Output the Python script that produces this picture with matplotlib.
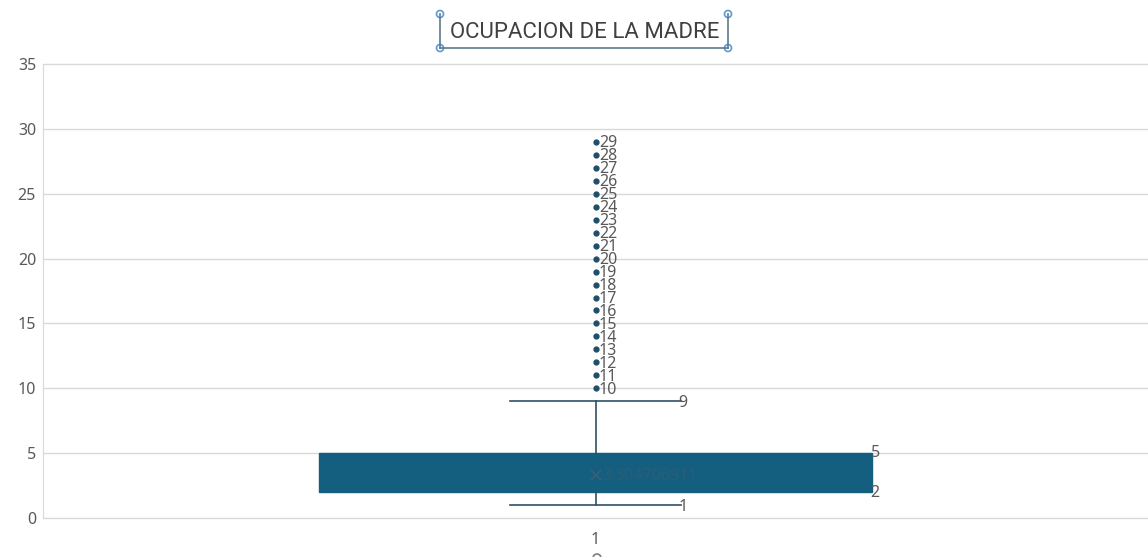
import numpy as np
import matplotlib.pyplot as plt
from matplotlib.patches import Circle
from matplotlib.lines import Line2D

# box summary
q1 = 2
q3 = 5
median = 5
whisker_low = 1
whisker_high = 9
mean_value = 3.304706911
outliers = [10, 11, 12, 13, 14, 15, 16, 17, 18, 19,
            20, 21, 22, 23, 24, 25, 26, 27, 28, 29]
category = ['1']
y_ticks = [0, 5, 10, 15, 20, 25, 30, 35]

box_color = '#145f80'
line_color = '#2e5266'
text_color = '#595959'
plt.rcParams['font.family'] = ['Noto Sans', 'DejaVu Sans']

fig = plt.figure(figsize=(11.48, 5.57), dpi=100)
ax = fig.add_axes([0.0375, 0.070, 0.9625, 0.815])

stats = [{'med': median, 'q1': q1, 'q3': q3, 'whislo': whisker_low,
          'whishi': whisker_high, 'mean': mean_value, 'fliers': outliers,
          'label': category[0]}]

ax.bxp(stats, positions=[1], widths=0.5, capwidths=0.154, patch_artist=True,
       showmeans=True, showfliers=True,
       boxprops=dict(facecolor=box_color, edgecolor=box_color, linewidth=1),
       medianprops=dict(color=box_color, linewidth=0),
       whiskerprops=dict(color=line_color, linewidth=1.2),
       capprops=dict(color=line_color, linewidth=1.2),
       meanprops=dict(marker='x', markeredgecolor='#3a5f78', markersize=7,
                      markeredgewidth=1.2),
       flierprops=dict(marker='o', markerfacecolor='#1f4e6b',
                       markeredgecolor='#1f4e6b', markersize=3.5))

# data labels
fs = 11.5
for v in outliers:
    ax.text(1.003, v - 0.1, str(v), fontsize=fs, color=text_color,
            ha='left', va='center')
ax.text(1.075, whisker_high - 0.15, str(whisker_high), fontsize=fs,
        color=text_color, ha='left', va='center')
ax.text(1.075, whisker_low - 0.15, str(whisker_low), fontsize=fs,
        color=text_color, ha='left', va='center')
ax.text(1.249, q3, str(q3), fontsize=fs, color=text_color,
        ha='left', va='center')
ax.text(1.249, q1 - 0.1, str(q1), fontsize=fs, color=text_color,
        ha='left', va='center')
ax.text(1.006, mean_value - 0.1, ('%.9f' % mean_value).replace('.', ','),
        fontsize=fs, color='#2a5d78', ha='left', va='center')

ax.set_xlim(0.5, 1.5)
ax.set_ylim(0, 35)
ax.set_yticks(y_ticks)
ax.set_xticks([1])
ax.set_xticklabels(category)
ax.tick_params(axis='both', length=0, labelsize=fs, labelcolor=text_color)
ax.tick_params(axis='y', pad=5)
ax.tick_params(axis='x', pad=10)
ax.yaxis.grid(True, color='#d9d9d9', linewidth=1)
for gl in ax.get_ygridlines():
    gl.set_clip_on(False)
ax.set_axisbelow(True)
for s in ax.spines.values():
    s.set_visible(False)
ax.spines['left'].set_visible(True)
ax.spines['left'].set_color('#d9d9d9')

# title with selection frame
fig.text(585 / 1148, 1 - 32 / 557, 'OCUPACION DE LA MADRE', fontsize=16,
         family='Roboto', color='#404040', ha='center', va='center')
x0, x1 = 440, 728
yb, yt = 557 - 48, 557 - 14
frame = '#5f7a8c'
for xs, ys in [([x0, x0], [yb, yt]), ([x1, x1], [yb, yt]), ([x0, x1], [yb, yb])]:
    fig.lines.append(Line2D(xs, ys, transform=None, color=frame, linewidth=1.2))
for cx, cy in [(x0, yb), (x1, yb), (x0, yt), (x1, yt)]:
    fig.patches.append(Circle((cx, cy), 3.5, transform=None,
                              facecolor='white', edgecolor='#5b9bd5', linewidth=1.2))
fig.patches.append(Circle((597, -1), 4, transform=None,
                          facecolor='white', edgecolor='#7f7f7f', linewidth=1.2))

plt.savefig('out.png', dpi=100)
